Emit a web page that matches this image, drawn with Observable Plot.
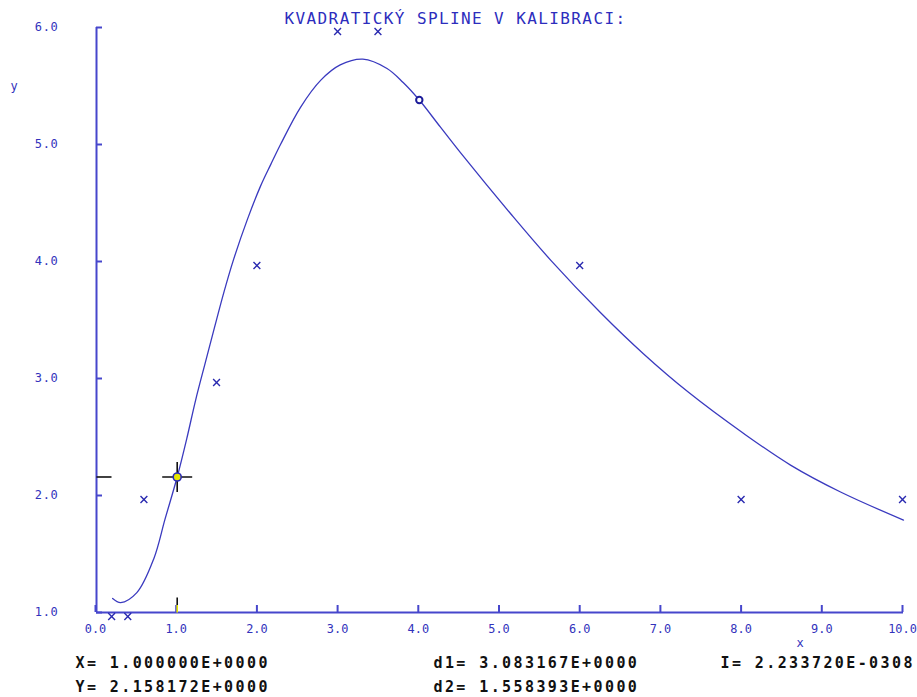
<!DOCTYPE html>
<html><head><meta charset="utf-8">
<script src="https://cdn.jsdelivr.net/npm/d3@7"></script>
<script src="https://cdn.jsdelivr.net/npm/@observablehq/plot@0.6"></script>
<style>
body{margin:0;background:#fff;}
svg{display:block}
g[font-size="12"]{letter-spacing:0.7px}
g[font-size="16"]{letter-spacing:1.4px}
g[font-size="15"]{letter-spacing:2.4px}
</style>
</head><body><div id="chart"></div>
<script>
const title = "KVADRATICKÝ SPLINE V KALIBRACI:";
const xTicks = [0,1,2,3,4,5,6,7,8,9,10];
const yTicks = [1,2,3,4,5,6];
const pointX = [0.2,0.4,0.6,1.5,2,3,3.5,6,8,10];
const pointY = [1,1,2,3,4,6,6,4,2,2];
const curveX = [0.20,0.30,0.50,0.71,0.85,1.00,1.12,1.23,1.35,1.46,1.58,1.70,1.87,2.03,2.16,2.28,2.53,2.78,3.02,3.30,3.60,3.80,4.00,4.26,4.51,5.13,5.63,6.25,6.78,7.34,8.02,8.60,9.22,10.0];
const curveY = [1.12,1.085,1.17,1.46,1.80,2.158,2.49,2.82,3.14,3.43,3.74,4.02,4.36,4.64,4.83,5.00,5.32,5.55,5.68,5.73,5.65,5.53,5.38,5.15,4.93,4.41,4.01,3.56,3.21,2.88,2.53,2.26,2.03,1.79];
const knotX = [4.0];
const knotY = [5.38];
const cursorX = [1.0];
const cursorY = [2.158172];
const infoLeft = ["X= 1.000000E+0000","Y= 2.158172E+0000"];
const infoMid = ["d1= 3.083167E+0000","d2= 1.558393E+0000"];
const infoRight = ["I= 2.233720E-0308"];
const axisNameY = ["y"];
const axisNameX = ["x"];

const AX = "#4646cc", LAB = "#3232bc", CUR = "#3a3abf", MK = "#2a2ab0";
const curve = curveX.map((x,i)=>({x, y: curveY[i]}));
const pts = pointX.map((x,i)=>({x, y: pointY[i]}));
const knots = knotX.map((x,i)=>({x, y: knotY[i]}));
const cur = cursorX.map((x,i)=>({x, y: cursorY[i]}));

const crossSym = {draw(c, s){const r=Math.sqrt(s/Math.PI); c.moveTo(-r,0); c.lineTo(r,0); c.moveTo(0,-r); c.lineTo(0,r);}};
const hSym = {draw(c, s){const r=Math.sqrt(s/Math.PI); c.moveTo(0,0); c.lineTo(r,0);}};
const vBlack = {draw(c, s){const r=Math.sqrt(s/Math.PI); c.moveTo(0,-r); c.lineTo(0,-r/2);}};
const vYellow = {draw(c, s){const r=Math.sqrt(s/Math.PI); c.moveTo(0,-r/2); c.lineTo(0,0);}};

const infoText = (lines, dx) => lines.map((t, i) => Plot.text([t], {frameAnchor: "bottom-left", dx, dy: 51 + 24 * i, textAnchor: "start", lineAnchor: "middle", fontSize: 15, fontWeight: "bold", fill: "#111"}));

const chart = Plot.plot({
  width: 917, height: 697,
  marginLeft: 96, marginRight: 14, marginTop: 27, marginBottom: 85,
  x: {domain: [0,10]},
  y: {domain: [1,6]},
  style: {background: "#fff", fontFamily: "'DejaVu Sans Mono', monospace"},
  marks: [
    Plot.ruleX([0], {stroke: AX, strokeWidth: 2}),
    Plot.ruleY([1], {stroke: AX, strokeWidth: 2}),
    Plot.axisX(xTicks, {tickSize: -7, tickPadding: 19, stroke: AX, strokeWidth: 2, fill: LAB, fontSize: 11.9, dx: -1, tickFormat: d=>d.toFixed(1), label: null}),
    Plot.axisY(yTicks, {tickSize: -6, tickPadding: 44, stroke: AX, strokeWidth: 2, fill: LAB, fontSize: 12, tickFormat: d=>d.toFixed(1), label: null}),
    Plot.line(curve, {x: "x", y: "y", stroke: CUR, strokeWidth: 1.3, curve: "catmull-rom"}),
    Plot.dot(pts, {x: "x", y: "y", symbol: "times", r: 3.2, stroke: MK, strokeWidth: 1.4, dy: 4, dx: -1}),
    Plot.dot(knots, {x: "x", y: "y", r: 3.2, stroke: "#1c1c9a", strokeWidth: 2, fill: "#fff"}),
    Plot.dot(cur, {x: d=>0, y: "y", symbol: hSym, r: 15, stroke: "#111", strokeWidth: 1.6, fill: "none"}),
    Plot.dot(cur, {x: "x", y: d=>1, symbol: vBlack, r: 15, stroke: "#111", strokeWidth: 1.6, fill: "none"}),
    Plot.dot(cur, {x: "x", y: d=>1, symbol: vYellow, r: 15, stroke: "#e6e600", strokeWidth: 1.6, fill: "none"}),
    Plot.dot(cur, {x: "x", y: "y", symbol: crossSym, r: 15, stroke: "#111", strokeWidth: 1.6, fill: "none"}),
    Plot.dot(cur, {x: "x", y: "y", r: 4, stroke: "#2a2ab8", strokeWidth: 1.6, fill: "#e6e600"}),
    Plot.text([title], {frameAnchor: "top-left", dx: 359, dy: -9, textAnchor: "middle", lineAnchor: "middle", fontSize: 16, fill: "#2d2dbd"}),
    Plot.text(axisNameY, {frameAnchor: "top-left", dx: -82, dy: 59, textAnchor: "middle", lineAnchor: "middle", fontSize: 12, fill: LAB}),
    Plot.text(axisNameX, {frameAnchor: "bottom-left", dx: 704, dy: 31, textAnchor: "middle", lineAnchor: "middle", fontSize: 12, fill: LAB}),
    ...infoText(infoLeft, -21),
    ...infoText(infoMid, 337),
    ...infoText(infoRight, 624)
  ]
});
document.getElementById("chart").append(chart);
</script>
</body></html>
